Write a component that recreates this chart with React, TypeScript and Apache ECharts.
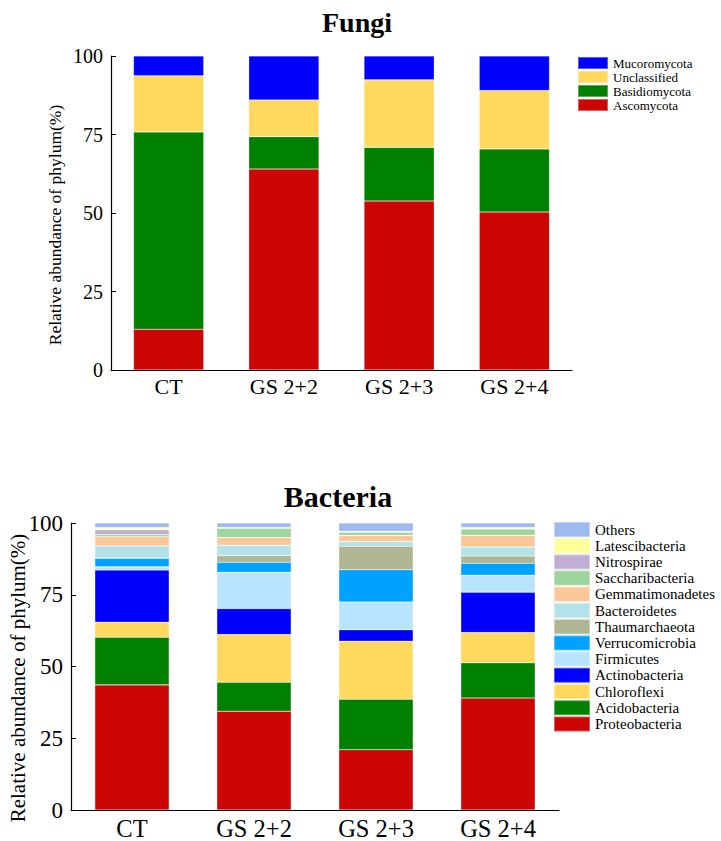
import React, { useEffect, useRef } from "react";
import * as echarts from "echarts";

const categories = ["CT", "GS 2+2", "GS 2+3", "GS 2+4"];
const yTicks = [0, 25, 50, 75, 100];

// Fungi (bottom -> top)
const fungiNames = ["Ascomycota", "Basidiomycota", "Unclassified", "Mucoromycota"];
const ascomycota = [13.0, 64.0, 53.8, 50.3];
const basidiomycota = [62.8, 10.3, 17.1, 20.1];
const unclassified = [17.9, 11.7, 21.5, 18.6];
const mucoromycota = [6.3, 14.0, 7.6, 11.0];
const fungiValues = [ascomycota, basidiomycota, unclassified, mucoromycota];
const fungiColors = ["#CC0505", "#008000", "#FFD85E", "#0000FF"];

// Bacteria (bottom -> top)
const bacteriaNames = [
  "Proteobacteria",
  "Acidobacteria",
  "Chloroflexi",
  "Actinobacteria",
  "Firmicutes",
  "Verrucomicrobia",
  "Thaumarchaeota",
  "Bacteroidetes",
  "Gemmatimonadetes",
  "Saccharibacteria",
  "Nitrospirae",
  "Latescibacteria",
  "Others",
];
const proteobacteria = [43.6, 34.4, 21.0, 39.0];
const acidobacteria = [16.6, 10.1, 17.6, 12.3];
const chloroflexi = [5.2, 16.6, 20.2, 10.5];
const actinobacteria = [18.2, 9.1, 4.0, 14.1];
const firmicutes = [1.1, 12.6, 9.7, 5.9];
const verrucomicrobia = [3.0, 3.5, 11.2, 4.2];
const thaumarchaeota = [0.1, 2.4, 8.2, 2.5];
const bacteroidetes = [4.2, 3.5, 1.6, 3.1];
const gemmatimonadetes = [3.2, 2.7, 2.2, 4.1];
const saccharibacteria = [0.8, 3.3, 1.1, 2.2];
const nitrospirae = [1.7, 0.1, 0.1, 0.1];
const latescibacteria = [0.7, 0.1, 0.2, 0.4];
const others = [1.6, 1.6, 2.9, 1.6];
const bacteriaValues = [
  proteobacteria,
  acidobacteria,
  chloroflexi,
  actinobacteria,
  firmicutes,
  verrucomicrobia,
  thaumarchaeota,
  bacteroidetes,
  gemmatimonadetes,
  saccharibacteria,
  nitrospirae,
  latescibacteria,
  others,
];
const bacteriaColors = [
  "#CC0505",
  "#008000",
  "#FFD85E",
  "#0000FF",
  "#B8E4FD",
  "#00A2FF",
  "#B0B592",
  "#B3E2E8",
  "#FAC898",
  "#9DD59D",
  "#C0AED5",
  "#FFFF99",
  "#9DBAF1",
];

const SERIF = '"Liberation Serif", "Times New Roman", serif';

export default function App() {
  const ref = useRef<HTMLDivElement>(null);

  useEffect(() => {
    if (!ref.current) return;
    const chart = echarts.init(ref.current, undefined, { renderer: "svg" });

    const makeX = (gridIndex: number, fontSize: number, margin: number) => ({
      type: "category",
      gridIndex,
      data: categories,
      axisLine: { lineStyle: { color: "#000", width: 1.2 } },
      axisTick: { inside: true, length: 5, lineStyle: { color: "#000" } },
      axisLabel: { color: "#000", fontFamily: SERIF, fontSize, margin },
      splitLine: { show: false },
    });
    const makeY = (gridIndex: number, fontSize: number) => ({
      type: "value",
      gridIndex,
      min: yTicks[0],
      max: yTicks[yTicks.length - 1],
      interval: 25,
      axisLine: { show: true, lineStyle: { color: "#000", width: 1.2 } },
      axisTick: { show: true, inside: true, length: 5, lineStyle: { color: "#000" } },
      axisLabel: { color: "#000", fontFamily: SERIF, fontSize, margin: 8 },
      splitLine: { show: false },
    });

    const fungiSeries = fungiNames.map((name, i) => ({
      name,
      type: "bar",
      stack: "fungi",
      xAxisIndex: 0,
      yAxisIndex: 0,
      barWidth: "61%",
      data: fungiValues[i],
      itemStyle: {
        color: fungiColors[i],
        borderColor: "rgba(255,255,255,0.35)",
        borderWidth: 0.6,
      },
    }));
    const bacteriaSeries = bacteriaNames.map((name, i) => ({
      name,
      type: "bar",
      stack: "bacteria",
      xAxisIndex: 1,
      yAxisIndex: 1,
      barWidth: "61%",
      data: bacteriaValues[i],
      itemStyle: {
        color: bacteriaColors[i],
        borderColor: "rgba(255,255,255,0.35)",
        borderWidth: 0.6,
      },
    }));

    chart.setOption({
      animation: false,
      backgroundColor: "#fff",
      grid: [
        { left: 111, top: 56, width: 461, height: 314 },
        { left: 71, top: 523, width: 488, height: 292 },
      ],
      xAxis: [makeX(0, 22, 5), makeX(1, 24.5, 6)],
      yAxis: [makeY(0, 20), makeY(1, 23)],
      legend: [
        {
          data: fungiNames.slice().reverse(),
          orient: "vertical",
          left: 577,
          top: 56,
          padding: 0,
          itemWidth: 30,
          itemHeight: 12,
          itemGap: 0,
          icon: "rect",
          selectedMode: false,
          textStyle: { color: "#000", fontFamily: SERIF, fontSize: 13 },
        },
        {
          data: bacteriaNames.slice().reverse(),
          orient: "vertical",
          left: 553,
          top: 521,
          padding: 0,
          itemWidth: 36,
          itemHeight: 15,
          itemGap: -0.8,
          icon: "rect",
          selectedMode: false,
          textStyle: { color: "#000", fontFamily: SERIF, fontSize: 15 },
        },
      ],
      graphic: [
        {
          type: "text",
          x: 357,
          y: 22,
          style: {
            text: "Fungi",
            font: `bold 28px ${SERIF}`,
            fill: "#000",
            textAlign: "center",
            textVerticalAlign: "middle",
          },
        },
        {
          type: "text",
          x: 338,
          y: 496,
          style: {
            text: "Bacteria",
            font: `bold 30px ${SERIF}`,
            fill: "#000",
            textAlign: "center",
            textVerticalAlign: "middle",
          },
        },
        {
          type: "text",
          x: 55,
          y: 225,
          rotation: Math.PI / 2,
          style: {
            text: "Relative abundance of phylum(%)",
            font: `17.5px ${SERIF}`,
            fill: "#000",
            textAlign: "center",
            textVerticalAlign: "middle",
          },
        },
        {
          type: "text",
          x: 18,
          y: 678,
          rotation: Math.PI / 2,
          style: {
            text: "Relative abundance of phylum(%)",
            font: `21px ${SERIF}`,
            fill: "#000",
            textAlign: "center",
            textVerticalAlign: "middle",
          },
        },
      ],
      series: [...fungiSeries, ...bacteriaSeries],
    });

    return () => chart.dispose();
  }, []);

  return (
    <div
      ref={ref}
      style={{ position: "absolute", left: 0, top: 0, width: 721, height: 841, background: "#fff" }}
    />
  );
}
